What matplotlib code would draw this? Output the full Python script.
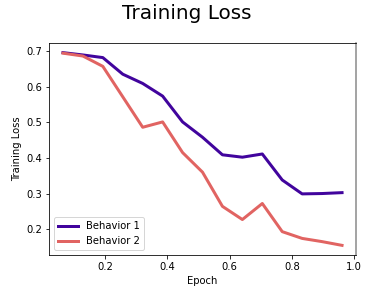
import numpy as np
import matplotlib
matplotlib.use("Agg")
import matplotlib.pyplot as plt

steps = np.arange(10, 160, 10)
epoch = steps / 156.0
behavior1 = [0.6955, 0.689, 0.6816, 0.635, 0.609, 0.5735, 0.501, 0.458, 0.4087, 0.402, 0.411, 0.338, 0.299, 0.300, 0.3025]
behavior2 = [0.694, 0.686, 0.657, 0.5715, 0.486, 0.501, 0.415, 0.360, 0.264, 0.227, 0.272, 0.193, 0.174, 0.165, 0.1545]
labels = ["Behavior 1", "Behavior 2"]
colors = [plt.cm.plasma(0.1), plt.cm.plasma(0.6)]

fig = plt.figure(figsize=(374/72, 299/72), dpi=72)
ax = fig.add_axes([49/374, 1-255/299, (356-49)/374, (255-43)/299])
ax.plot(epoch, behavior1, color=colors[0], lw=3, label=labels[0])
ax.plot(epoch, behavior2, color=colors[1], lw=3, label=labels[1])
ax.set_xlabel("Epoch", fontsize=10)
ax.set_ylabel("Training Loss", fontsize=10)
ax.tick_params(labelsize=10)
ax.spines["right"].set_color("#888888")
ax.spines["right"].set_linewidth(1.5)
ax.legend(loc="lower left", fontsize=10)
fig.suptitle("Training Loss", fontsize=20, x=0.5, y=0.985)
fig.savefig("out.png", dpi=72)
